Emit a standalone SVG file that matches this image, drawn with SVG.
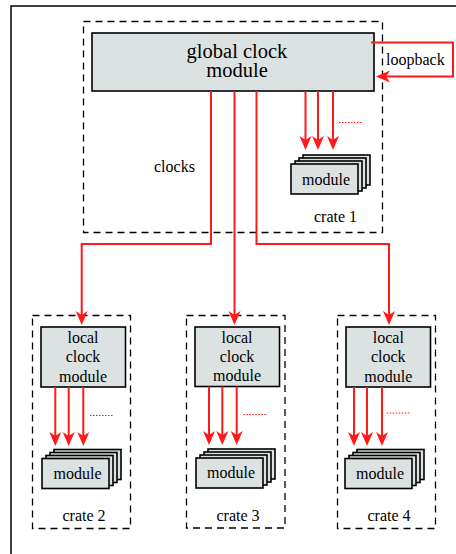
<svg xmlns="http://www.w3.org/2000/svg" width="456" height="554" viewBox="0 0 456 554">
<style>
.frame{fill:none;stroke:#000;stroke-width:1.5}
.crate{fill:none;stroke:#000;stroke-width:1.3;stroke-dasharray:7,5}
.box{fill:#dce2e1;stroke:#000;stroke-width:1.6}
.wire{fill:none;stroke:#ff1a1a;stroke-width:2;marker-end:url(#ah)}
.dots{fill:none;stroke:#ff1a1a;stroke-width:1;stroke-dasharray:1.5,1.5}
text{font-family:"Liberation Serif","Times New Roman",serif;fill:#000;text-anchor:middle}
.big{font-size:20.5px}
.t{font-size:16px}
.l{font-size:16px;text-anchor:start}
</style>
<defs>
<marker id="ah" markerUnits="userSpaceOnUse" markerWidth="14" markerHeight="12" refX="4" refY="6" orient="auto" overflow="visible">
<path d="M0,0 L14,6 L0,12 L4,6 Z" fill="#ff1a1a"/>
</marker>
<g id="stack">
<rect class="box" x="12" y="-9" width="67" height="30"/>
<rect class="box" x="8" y="-6" width="67" height="30"/>
<rect class="box" x="4" y="-3" width="67" height="30"/>
<rect class="box" x="0" y="0" width="67" height="30"/>
</g>
</defs>
<polyline class="frame" points="11,554 11,6 456,6"/>

<g id="crate1">
<rect class="crate" x="83.5" y="21.5" width="299" height="211"/>
<text class="t" x="335.5" y="222">crate 1</text>
</g>
<g id="global-clock">
<rect class="box" x="92" y="33" width="282" height="58"/>
<text class="big" x="237" y="57.5">global clock</text>
<text class="big" x="237" y="77">module</text>
</g>
<g id="modules1">
<use href="#stack" x="291" y="164"/>
<text class="t" x="326" y="184.5">module</text>
</g>
<text class="l" x="154" y="172">clocks</text>
<text class="l" x="386" y="65">loopback</text>

<g id="crate2">
<rect class="crate" x="32.5" y="315.5" width="98" height="213"/>
<text class="t" x="84" y="521">crate 2</text>
</g>
<g id="local-clock2">
<rect class="box" x="41" y="327" width="84.5" height="60"/>
<text class="t" x="83" y="343">local</text>
<text class="t" x="83" y="362">clock</text>
<text class="t" x="83" y="381.5">module</text>
</g>
<g id="modules2">
<use href="#stack" x="42" y="458.5"/>
<text class="t" x="77.5" y="478.5">module</text>
</g>

<g id="crate3">
<rect class="crate" x="186.5" y="315.5" width="98.5" height="212.5"/>
<text class="t" x="238" y="520.5">crate 3</text>
</g>
<g id="local-clock3">
<rect class="box" x="195" y="327" width="84.5" height="59.5"/>
<text class="t" x="237" y="343">local</text>
<text class="t" x="237" y="362">clock</text>
<text class="t" x="237" y="381">module</text>
</g>
<g id="modules3">
<use href="#stack" x="196" y="458"/>
<text class="t" x="231" y="478">module</text>
</g>

<g id="crate4">
<rect class="crate" x="337.5" y="315.5" width="98" height="213"/>
<text class="t" x="389" y="521">crate 4</text>
</g>
<g id="local-clock4">
<rect class="box" x="346" y="327" width="84.5" height="60"/>
<text class="t" x="388.3" y="343">local</text>
<text class="t" x="388.3" y="362">clock</text>
<text class="t" x="388.3" y="381.5">module</text>
</g>
<g id="modules4">
<use href="#stack" x="345" y="458.5"/>
<text class="t" x="380" y="478.5">module</text>
</g>

<g id="connectors">
<path class="wire" d="M371,42.5 H453 V76.5 H386"/>
<path class="wire" d="M211,91 V244 H81.7 V315"/>
<path class="wire" d="M234.5,91 V315"/>
<path class="wire" d="M256.5,91 V244 H389 V315"/>
<path class="wire" d="M305.5,91 V140"/>
<path class="wire" d="M318,91 V140"/>
<path class="wire" d="M333,91 V140"/>
<path class="dots" d="M339,122.5 H363"/>
<path class="wire" d="M55.3,387 V436"/>
<path class="wire" d="M68.7,387 V436"/>
<path class="wire" d="M83.3,387 V436"/>
<path class="dots" d="M90,415.5 H114"/>
<path class="wire" d="M209,386.5 V435"/>
<path class="wire" d="M222.3,386.5 V435"/>
<path class="wire" d="M236.7,386.5 V435"/>
<path class="dots" d="M243.3,414.5 H267.7"/>
<path class="wire" d="M354,387 V436"/>
<path class="wire" d="M367,387 V436"/>
<path class="wire" d="M382,387 V436"/>
<path class="dots" d="M386.7,413 H411"/>
</g>
</svg>
